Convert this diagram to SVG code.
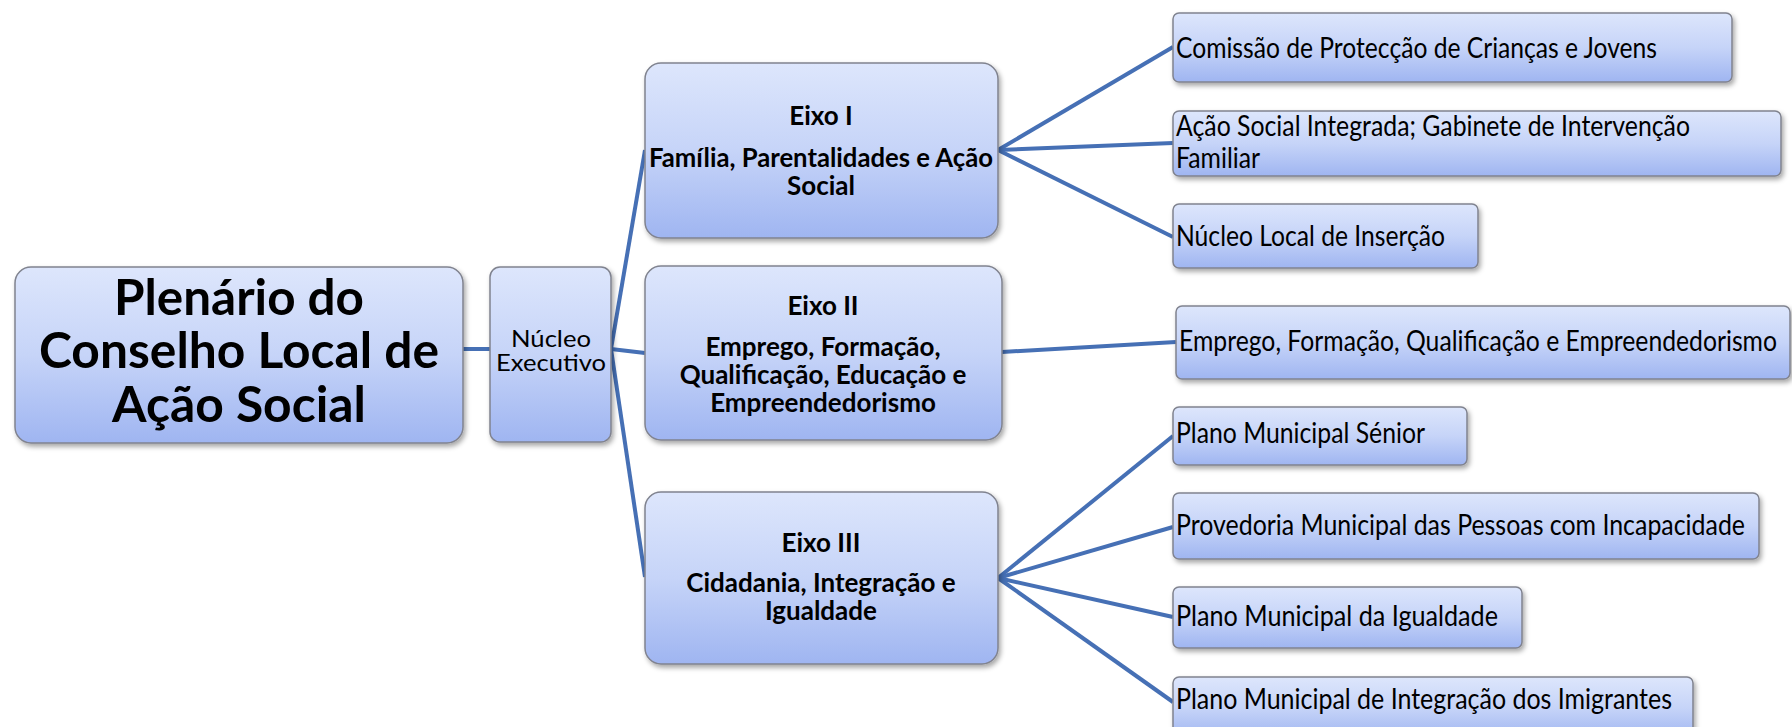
<svg xmlns="http://www.w3.org/2000/svg" width="1792" height="727" viewBox="0 0 1792 727">
<defs>
<linearGradient id="g" x1="0" y1="0" x2="0" y2="1">
<stop offset="0" stop-color="#dde6fc"/>
<stop offset="0.5" stop-color="#c6d4f8"/>
<stop offset="1" stop-color="#9fb5f1"/>
</linearGradient>
<filter id="sh" x="-10%" y="-10%" width="120%" height="130%">
<feDropShadow dx="2" dy="3" stdDeviation="2.5" flood-color="#000" flood-opacity="0.35"/>
</filter>
</defs>
<style>
.box{fill:url(#g);stroke:#80838f;stroke-width:1.5;filter:url(#sh)}
.t{font-family:Lato,"Open Sans","Liberation Sans",sans-serif;fill:#000}
.big{font-size:50px;font-weight:bold;text-anchor:middle}
.mid{font-size:24px;text-anchor:middle}
.ax{font-size:26px;font-weight:bold;text-anchor:middle}
.lf{font-size:29px}
.c{stroke:#4670b5;stroke-width:4;fill:none;stroke-linecap:butt}
</style>
<rect width="1792" height="727" fill="#fff"/>
<g id="connectors">
<line class="c" x1="463" y1="349" x2="490" y2="349"/>
<line class="c" x1="611" y1="349" x2="645" y2="150"/>
<line class="c" x1="611" y1="349" x2="645" y2="353"/>
<line class="c" x1="611" y1="349" x2="645" y2="577"/>
<line class="c" x1="998" y1="150" x2="1173" y2="47"/>
<line class="c" x1="998" y1="150" x2="1173" y2="143"/>
<line class="c" x1="998" y1="150" x2="1173" y2="237"/>
<line class="c" x1="1002" y1="352" x2="1176" y2="342"/>
<line class="c" x1="998" y1="578" x2="1173" y2="436"/>
<line class="c" x1="998" y1="578" x2="1173" y2="527"/>
<line class="c" x1="998" y1="578" x2="1173" y2="617"/>
<line class="c" x1="998" y1="578" x2="1173" y2="702"/>
</g>
<g id="plenario">
<rect class="box" x="15" y="267" width="448" height="176" rx="16"/>
<text class="t big" x="239" y="315" textLength="250" lengthAdjust="spacingAndGlyphs">Plenário do</text>
<text class="t big" x="239" y="368" textLength="400" lengthAdjust="spacingAndGlyphs">Conselho Local de</text>
<text class="t big" x="239" y="422" textLength="254" lengthAdjust="spacingAndGlyphs">Ação Social</text>
</g>
<g id="nucleo">
<rect class="box" x="490" y="267" width="121" height="175" rx="10"/>
<text class="t mid" x="551" y="347" textLength="80" lengthAdjust="spacingAndGlyphs">Núcleo</text>
<text class="t mid" x="551" y="371" textLength="110" lengthAdjust="spacingAndGlyphs">Executivo</text>
</g>
<g id="eixo1">
<rect class="box" x="645" y="63" width="353" height="175" rx="16"/>
<text class="t ax" x="821" y="125">Eixo I</text>
<text class="t ax" x="821" y="167" textLength="344" lengthAdjust="spacingAndGlyphs">Família, Parentalidades e Ação</text>
<text class="t ax" x="821" y="195">Social</text>
</g>
<g id="eixo2">
<rect class="box" x="645" y="266" width="357" height="174" rx="16"/>
<text class="t ax" x="823" y="315">Eixo II</text>
<text class="t ax" x="823" y="356">Emprego, Formação,</text>
<text class="t ax" x="823" y="384">Qualificação, Educação e</text>
<text class="t ax" x="823" y="412">Empreendedorismo</text>
</g>
<g id="eixo3">
<rect class="box" x="645" y="492" width="353" height="172" rx="16"/>
<text class="t ax" x="821" y="552">Eixo III</text>
<text class="t ax" x="821" y="592">Cidadania, Integração e</text>
<text class="t ax" x="821" y="620">Igualdade</text>
</g>
<g id="comissao">
<rect class="box" x="1173" y="13" width="559" height="69" rx="6"/>
<text class="t lf" x="1176" y="58" textLength="481" lengthAdjust="spacingAndGlyphs">Comissão de Protecção de Crianças e Jovens</text>
</g>
<g id="acao-social">
<rect class="box" x="1173" y="111" width="608" height="65" rx="6"/>
<text class="t lf" x="1176" y="136" textLength="514" lengthAdjust="spacingAndGlyphs">Ação Social Integrada; Gabinete de Intervenção</text>
<text class="t lf" x="1176" y="168" textLength="84" lengthAdjust="spacingAndGlyphs">Familiar</text>
</g>
<g id="nucleo-local">
<rect class="box" x="1173" y="204" width="305" height="64" rx="6"/>
<text class="t lf" x="1176" y="246" textLength="269" lengthAdjust="spacingAndGlyphs">Núcleo Local de Inserção</text>
</g>
<g id="emprego">
<rect class="box" x="1176" y="306" width="614" height="73" rx="6"/>
<text class="t lf" x="1179" y="351" textLength="598" lengthAdjust="spacingAndGlyphs">Emprego, Formação, Qualificação e Empreendedorismo</text>
</g>
<g id="senior">
<rect class="box" x="1173" y="407" width="294" height="58" rx="6"/>
<text class="t lf" x="1176" y="443" textLength="249" lengthAdjust="spacingAndGlyphs">Plano Municipal Sénior</text>
</g>
<g id="provedoria">
<rect class="box" x="1173" y="493" width="586" height="66" rx="6"/>
<text class="t lf" x="1176" y="535" textLength="569" lengthAdjust="spacingAndGlyphs">Provedoria Municipal das Pessoas com Incapacidade</text>
</g>
<g id="igualdade">
<rect class="box" x="1173" y="587" width="349" height="61" rx="6"/>
<text class="t lf" x="1176" y="626" textLength="322" lengthAdjust="spacingAndGlyphs">Plano Municipal da Igualdade</text>
</g>
<g id="imigrantes">
<rect class="box" x="1173" y="677" width="520" height="62" rx="6"/>
<text class="t lf" x="1176" y="709" textLength="496" lengthAdjust="spacingAndGlyphs">Plano Municipal de Integração dos Imigrantes</text>
</g>
</svg>
